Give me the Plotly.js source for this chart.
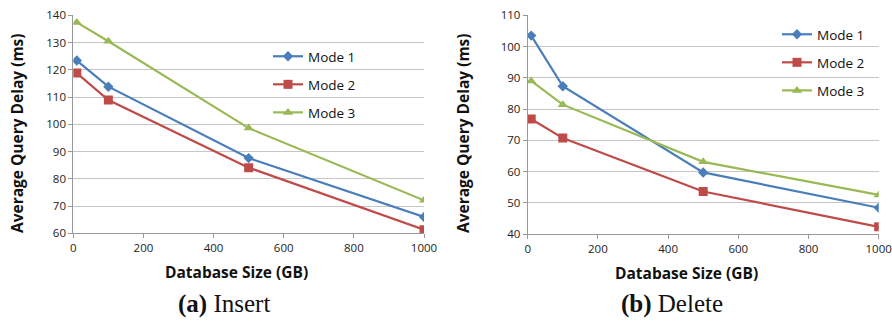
<!DOCTYPE html>
<html>
<head>
<meta charset="utf-8">
<script src="https://cdn.plot.ly/plotly-3.0.1.min.js"></script>
<style>html,body{margin:0;padding:0;background:#fff;}#chart{width:892px;height:321px;}</style>
</head>
<body>
<div id="chart"></div>
<script>
const sizes = [10, 100, 500, 1000];
const modeNames = ["Mode 1", "Mode 2", "Mode 3"];
const insertMode1 = [123.4, 113.8, 87.6, 66.0];
const insertMode2 = [118.8, 108.9, 84.1, 61.3];
const insertMode3 = [137.4, 130.5, 98.6, 72.1];
const deleteMode1 = [103.5, 87.3, 59.7, 48.4];
const deleteMode2 = [76.8, 70.7, 53.6, 42.3];
const deleteMode3 = [89.0, 81.4, 63.1, 52.5];
const xTicks = [0, 200, 400, 600, 800, 1000];
const insertYTicks = [60, 70, 80, 90, 100, 110, 120, 130, 140];
const deleteYTicks = [40, 50, 60, 70, 80, 90, 100, 110];
const captionA = "<b>(a)</b> Insert";
const captionB = "<b>(b)</b> Delete";
const xTitle = "Database Size (GB)";
const yTitle = "Average Query Delay (ms)";

const colors = ["#4A7EBB", "#BE4B48", "#98B954"];
const symbols = ["diamond", "square", "triangle-up"];
const msizes = [8, 9, 9];

const traces = [];
function add(vals, i, xa, ya, leg) {
  traces.push({
    x: sizes, y: vals, type: "scatter", mode: "lines+markers",
    name: modeNames[i], xaxis: xa, yaxis: ya, legend: leg,
    legendgroup: leg + i, showlegend: true,
    line: {color: colors[i], width: 2.2},
    marker: {color: colors[i], symbol: symbols[i], size: msizes[i]}
  });
}
[insertMode1, insertMode2, insertMode3].forEach((v, i) => add(v, i, "x", "y", "legend"));
[deleteMode1, deleteMode2, deleteMode3].forEach((v, i) => add(v, i, "x2", "y2", "legend2"));

const W = 892, H = 321;
const axisFont = {family: "Open Sans, Noto Sans, sans-serif", size: 11.5, color: "#222"};
function xa(dom, anchor) {
  return {domain: dom, anchor: anchor, range: [0, 1000], tickvals: xTicks, ticks: "outside",
    ticklen: 4, tickcolor: "#999", showline: true, linecolor: "#999", linewidth: 1,
    showgrid: false, zeroline: false, tickfont: axisFont, fixedrange: true};
}
function ya(dom, anchor, rng, tv) {
  return {domain: dom, anchor: anchor, range: rng, tickvals: tv, ticks: "outside",
    ticklen: 4, tickcolor: "#999", showline: true, linecolor: "#999", linewidth: 1,
    showgrid: true, gridcolor: "#c6c6c6", gridwidth: 1, zeroline: false, tickfont: axisFont, fixedrange: true};
}
const titleFont = {family: "Open Sans, Noto Sans, sans-serif", size: 15.5, color: "#111", weight: "bold"};
const capFont = {family: "Liberation Serif, DejaVu Serif, serif", size: 25, color: "#111"};
const legFont = {family: "Open Sans, Noto Sans, sans-serif", size: 13.5, color: "#111"};

const layout = {
  width: W, height: H, margin: {l: 0, r: 0, t: 0, b: 0},
  paper_bgcolor: "#fff", plot_bgcolor: "#fff", showlegend: true,
  xaxis: xa([73.3 / W, 424 / W], "y"),
  yaxis: ya([1 - 233.3 / H, 1 - 15.3 / H], "x", [60, 140], insertYTicks),
  xaxis2: xa([527.7 / W, 878.7 / W], "y2"),
  yaxis2: ya([1 - 234 / H, 1 - 15.3 / H], "x2", [40, 110], deleteYTicks),
  legend: {x: 268 / W, y: 1 - 41 / H, xanchor: "left", yanchor: "top", bgcolor: "rgba(0,0,0,0)",
    font: legFont, traceorder: "grouped", tracegroupgap: 7.5, itemwidth: 30},
  legend2: {x: 777 / W, y: 1 - 19 / H, xanchor: "left", yanchor: "top", bgcolor: "rgba(0,0,0,0)",
    font: legFont, traceorder: "grouped", tracegroupgap: 7.5, itemwidth: 30},
  annotations: [
    {text: xTitle, xref: "paper", yref: "paper", x: 236 / W, y: 1 - 272 / H, showarrow: false, font: titleFont, xanchor: "center", yanchor: "middle"},
    {text: xTitle, xref: "paper", yref: "paper", x: 686 / W, y: 1 - 273 / H, showarrow: false, font: titleFont, xanchor: "center", yanchor: "middle"},
    {text: yTitle, xref: "paper", yref: "paper", x: 17 / W, y: 1 - 133 / H, showarrow: false, font: titleFont, textangle: -90, xanchor: "center", yanchor: "middle"},
    {text: yTitle, xref: "paper", yref: "paper", x: 463 / W, y: 1 - 133 / H, showarrow: false, font: titleFont, textangle: -90, xanchor: "center", yanchor: "middle"},
    {text: captionA, xref: "paper", yref: "paper", x: 224 / W, y: 1 - 304 / H, showarrow: false, font: capFont, xanchor: "center", yanchor: "middle"},
    {text: captionB, xref: "paper", yref: "paper", x: 672 / W, y: 1 - 304 / H, showarrow: false, font: capFont, xanchor: "center", yanchor: "middle"}
  ]
};
Plotly.newPlot("chart", traces, layout, {displayModeBar: false, staticPlot: true});
</script>
</body>
</html>
